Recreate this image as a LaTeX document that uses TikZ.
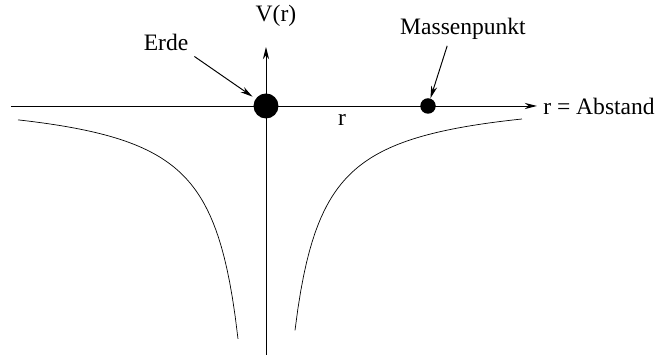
\documentclass[tikz,border=0pt]{standalone}
\usepackage{fontspec}
\setmainfont{Liberation Serif}
\usetikzlibrary{arrows.meta}
\begin{document}
\begin{tikzpicture}[font=\fontsize{13.4}{16}\selectfont,
  pfeil/.style={-{Stealth[length=7pt,width=3.5pt]},line width=0.55pt},
  punkt/.style={circle,fill,inner sep=0pt}]
\useasboundingbox (-5.32,-5.08) rectangle (8.04,2.12);
\draw[pfeil] (-5.1,0)--(5.42,0) node[right] (abstand) {r = Abstand};
\draw[pfeil] (0,-4.98)--(0,1.18);
\node (vr) at (0.2,1.8) {V(r)};
\draw[domain=-4.96:-0.56,samples=80] plot (\x,{0.28-2.765/abs(\x)});
\draw[domain=0.58:5.12,samples=80] plot (\x,{0.28-2.765/abs(\x)});
\node[punkt,minimum size=0.5cm] (erde) at (0,0) {};
\node[punkt,minimum size=0.31cm] (masse) at (3.24,0) {};
\node (erdetext) at (-2,1.28) {Erde};
\node (massetext) at (3.94,1.54) {Massenpunkt};
\node (r) at (1.52,-0.28) {r};
\draw[pfeil,shorten >=2pt] (erdetext.south east) -- (erde);
\draw[pfeil] ([xshift=-9pt]massetext.south) -- (masse);
\end{tikzpicture}
\end{document}
